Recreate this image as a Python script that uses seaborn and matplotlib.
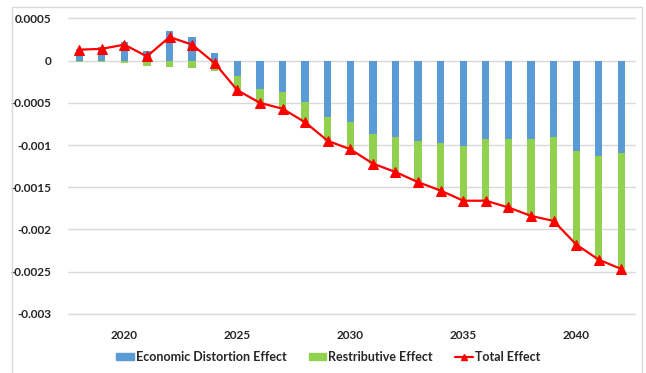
import matplotlib
matplotlib.use("Agg")
import matplotlib.pyplot as plt
import matplotlib.patches as mpatches
from matplotlib.lines import Line2D
import pandas as pd
import seaborn as sns

years = list(range(2018, 2043))
distortion = [0.00014, 0.00016, 0.00022, 0.00011, 0.00035, 0.00028, 0.00009,
              -0.00018, -0.000335, -0.00037, -0.00049, -0.00067, -0.00073,
              -0.00087, -0.0009, -0.00095, -0.00098, -0.00101, -0.00093,
              -0.00093, -0.00093, -0.0009, -0.00107, -0.00113, -0.0011]
redistributive = [-0.00001, -0.00002, -0.00003, -0.00006, -0.00007, -0.00009,
                  -0.00012, -0.00017, -0.000165, -0.0002, -0.00024, -0.00028,
                  -0.00032, -0.00035, -0.00042, -0.00049, -0.00056, -0.00065,
                  -0.00073, -0.00081, -0.00091, -0.001, -0.00111, -0.00123,
                  -0.00137]
total = [0.00013, 0.00014, 0.00019, 0.00005, 0.00028, 0.00019, -0.00003,
         -0.00035, -0.0005, -0.00057, -0.00073, -0.00095, -0.00105, -0.00122,
         -0.00132, -0.00144, -0.00154, -0.00166, -0.00166, -0.00174, -0.00184,
         -0.0019, -0.00218, -0.00236, -0.00247]
y_ticks = [0.0005, 0, -0.0005, -0.001, -0.0015, -0.002, -0.0025, -0.003]
y_labels = ["0.0005", "0", "-0.0005", "-0.001", "-0.0015", "-0.002", "-0.0025", "-0.003"]
x_ticks = [2020, 2025, 2030, 2035, 2040]

BLUE = "#5B9BD5"
GREEN = "#92D050"
RED = "#FF0000"
GRID = "#D9D9D9"

df = pd.DataFrame({"year": years, "distortion": distortion,
                   "redistributive": redistributive, "total": total})
# Excel-style stacking: negative green sits below a negative blue bar
df["green_stack"] = df["redistributive"] + df["distortion"].clip(upper=0)

sns.set_style("white")
plt.rcParams["font.family"] = ["Lato", "DejaVu Sans"]

fig = plt.figure(figsize=(6.46, 3.73), dpi=100)
ax = fig.add_axes([0.105, 0.152, 0.878, 0.803])

# horizontal gridlines drawn explicitly so the edge lines are not clipped
for yv in y_ticks:
    ax.axhline(yv, color=GRID, linewidth=1, zorder=0, clip_on=False)

sns.barplot(data=df, x="year", y="green_stack", native_scale=True, width=0.32,
            color=GREEN, saturation=1, ax=ax, linewidth=0, errorbar=None)
sns.barplot(data=df, x="year", y="distortion", native_scale=True, width=0.32,
            color=BLUE, saturation=1, ax=ax, linewidth=0, errorbar=None)
sns.lineplot(data=df, x="year", y="total", color=RED, linewidth=1.6,
             marker="^", markersize=7, markeredgecolor=RED, ax=ax)

ax.set_xlim(2017.5, 2042.6)
ax.set_ylim(-0.00303, 0.00052)
ax.set_yticks(y_ticks)
ax.set_yticklabels(y_labels, fontsize=8.5, fontweight="bold")
ax.set_xticks(x_ticks)
ax.set_xticklabels([str(t) for t in x_ticks], fontsize=8.5, fontweight="bold")
ax.tick_params(axis="both", length=0, pad=12)
ax.tick_params(axis="x", pad=10)
ax.set_xlabel("")
ax.set_ylabel("")
ax.grid(False)
for side in ["top", "right", "left", "bottom"]:
    ax.spines[side].set_visible(False)

handles = [
    mpatches.Patch(color=BLUE, label="Economic Distortion Effect"),
    mpatches.Patch(color=GREEN, label="Restributive Effect"),
    Line2D([], [], color=RED, marker="^", markersize=5, linewidth=1.6,
           label="Total Effect"),
]
fig.legend(handles=handles, loc="center", bbox_to_anchor=(0.508, 0.043), ncol=3,
           frameon=False, prop={"size": 9, "weight": "bold"}, handlelength=1.4,
           handleheight=0.5, handletextpad=0.15, columnspacing=1.8)

fig.patches.append(mpatches.Rectangle((12 / 646, -0.05), 630 / 646, 1.05 - 7 / 373,
                                      transform=fig.transFigure, fill=False,
                                      edgecolor=GRID, linewidth=1))

fig.savefig("out.png", dpi=100)
